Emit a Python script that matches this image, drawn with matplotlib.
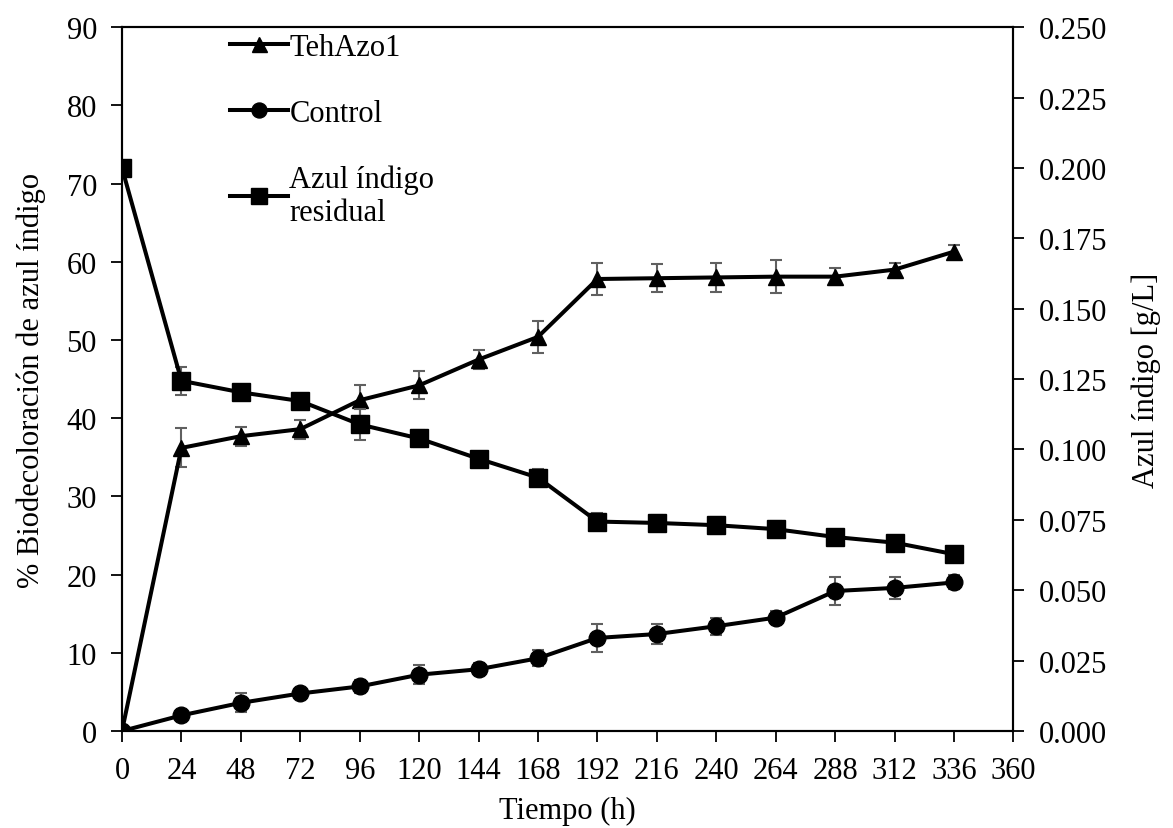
import matplotlib.pyplot as plt
from matplotlib.ticker import FormatStrFormatter

plt.rcParams['font.family'] = ['Liberation Serif', 'DejaVu Serif']

tiempo = [0, 24, 48, 72, 96, 120, 144, 168, 192, 216, 240, 264, 288, 312, 336]

tehazo1 = [0, 36.2, 37.7, 38.6, 42.3, 44.2, 47.5, 50.4, 57.8, 57.9, 58.0, 58.1, 58.1, 59.0, 61.3]
tehazo1_err = [0, 2.5, 1.2, 1.2, 2.0, 1.8, 1.2, 2.0, 2.0, 1.8, 1.8, 2.1, 1.1, 0.9, 0.8]

control = [0, 2.0, 3.6, 4.8, 5.7, 7.2, 7.9, 9.3, 11.9, 12.4, 13.4, 14.5, 17.9, 18.3, 19.0]
control_err = [0, 0.5, 1.2, 0.6, 0.8, 1.2, 0.8, 1.0, 1.8, 1.3, 1.1, 0.8, 1.8, 1.4, 0.9]

azul = [0.200, 0.1244, 0.1203, 0.1172, 0.1089, 0.1039, 0.0967, 0.0900, 0.0744, 0.0739,
        0.0731, 0.0717, 0.0689, 0.0669, 0.0628]
azul_err = [0, 0.0050, 0.0020, 0.0020, 0.0055, 0.0030, 0.0020, 0.0030, 0.0030, 0.0030,
            0.0030, 0.0030, 0.0020, 0.0020, 0.0020]

fig = plt.figure(figsize=(11.73, 8.29), dpi=100)
ax = fig.add_axes([0.104, 0.117, 0.760, 0.849])
ax2 = ax.twinx()

err_kw = dict(ecolor='#606060', elinewidth=1.5, capsize=4, capthick=1.5)
l1 = ax.errorbar(tiempo, tehazo1, yerr=tehazo1_err, color='black', lw=2.9,
                 marker='^', ms=12, label='TehAzo1', **err_kw)
l2 = ax.errorbar(tiempo, control, yerr=control_err, color='black', lw=2.9,
                 marker='o', ms=12, label='Control', **err_kw)
l3 = ax2.errorbar(tiempo, azul, yerr=azul_err, color='black', lw=2.9,
                  marker='s', ms=12.5, label='Azul índigo\nresidual', **err_kw)

ax.set_xlim(0, 360)
ax.set_ylim(0, 90)
ax2.set_ylim(0, 0.25)
ax.set_xticks(range(0, 361, 24))
ax.set_yticks(range(0, 91, 10))
ax2.set_yticks([i * 0.025 for i in range(11)])
ax2.yaxis.set_major_formatter(FormatStrFormatter('%.3f'))

for a in (ax, ax2):
    a.tick_params(direction='out', length=8, width=1.3, labelsize=22, pad=10)
    for s in a.spines.values():
        s.set_linewidth(1.5)

ax.set_xlabel('Tiempo (h)', fontsize=22, labelpad=8)
ax.set_ylabel('% Biodecoloración de azul índigo', fontsize=22, labelpad=15)
ax2.set_ylabel('Azul índigo [g/L]', fontsize=22, labelpad=18)

leg = ax2.legend([l1[0], l2[0], l3[0]], ['TehAzo1', 'Control', 'Azul índigo\nresidual'],
                 loc='upper left', bbox_to_anchor=(0.090, 1.031), frameon=False,
                 fontsize=22, handlelength=1.9, handletextpad=0.05, labelspacing=1.2,
                 markerscale=0.9)

fig.savefig('out.png', dpi=100)
